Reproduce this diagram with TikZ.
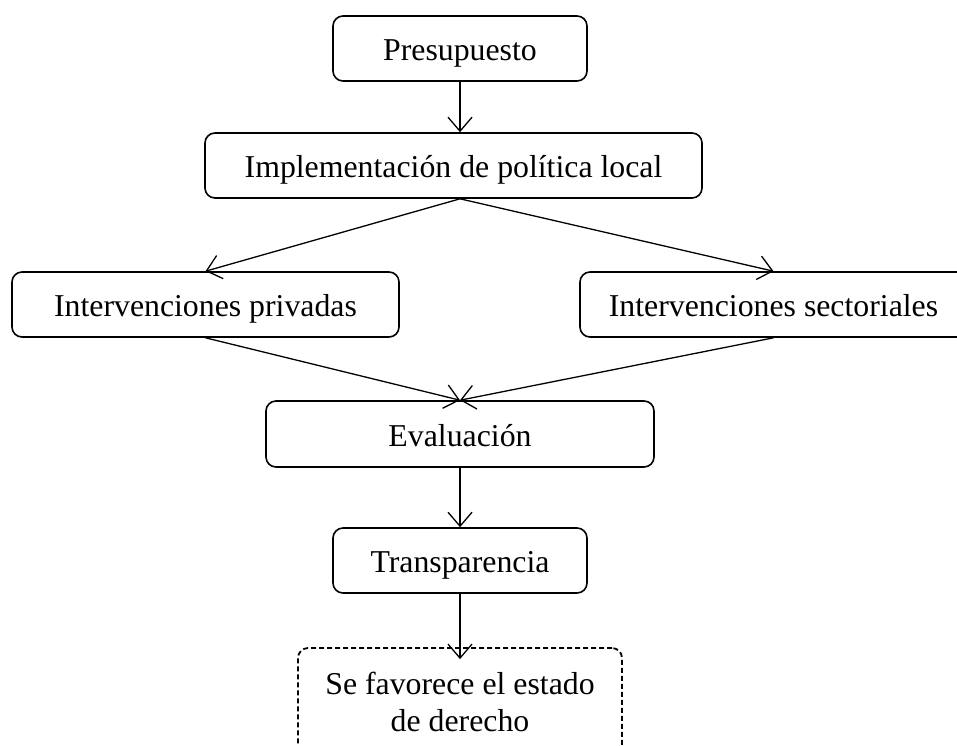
\documentclass[tikz,border=0pt]{standalone}
\usepackage{fontspec}
\setmainfont{Liberation Serif}
\usetikzlibrary{arrows.meta}
\begin{document}
\begin{tikzpicture}[x=1pt,y=-1pt,
  box/.style={draw, line width=1.6pt, rounded corners=10pt, inner sep=0pt, align=center,
    text height=27pt, text depth=3pt,
    font=\fontsize{31.8}{36.5}\selectfont},
  dbox/.style={box, text height=, text depth=, line width=1.8pt, dash pattern=on 5pt off 3pt},
  arr/.style={line width=1.3pt, -{Straight Barb[length=14pt,width=24pt,line width=1.3pt]}}]
\useasboundingbox (0,0) rectangle (957,745);
\clip (0,0) rectangle (957,745);
\node[box, minimum width=254pt, minimum height=65pt] (pres) at (460,48.5) {Presupuesto};
\node[box, minimum width=497pt, minimum height=65pt] (impl) at (453.5,165.5) {Implementación de política local};
\node[box, minimum width=387pt, minimum height=65pt] (priv) at (205.5,304.5) {Intervenciones privadas};
\node[box, minimum width=387pt, minimum height=65pt] (sect) at (773.5,304.5) {Intervenciones sectoriales};
\node[box, minimum width=388pt, minimum height=66pt] (eval) at (460,434) {Evaluación};
\node[box, minimum width=254pt, minimum height=65pt] (trans) at (460,560.5) {Transparencia};
\node[dbox, minimum width=324pt, minimum height=108pt] (fav) at (460,702) {Se favorece el estado\\de derecho};
\coordinate (implout) at ([xshift=6.5pt]impl.south);
\coordinate (favin) at ([yshift=-12pt]fav.north);
\draw[arr] (pres) -- ([xshift=6.5pt]impl.north);
\draw[arr] (implout) -- (priv.north);
\draw[arr] (implout) -- (sect.north);
\draw[arr] (priv.south) -- (eval.north);
\draw[arr] (sect.south) -- (eval.north);
\draw[arr] (eval) -- (trans);
\draw[arr] (trans) -- (favin);
\end{tikzpicture}
\end{document}
